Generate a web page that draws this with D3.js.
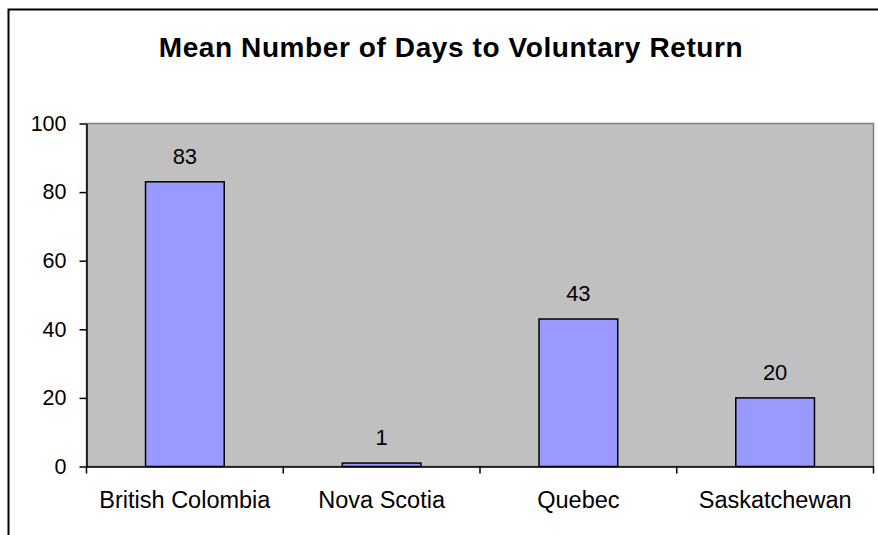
<!DOCTYPE html>
<html><head><meta charset="utf-8">
<script src="https://cdn.jsdelivr.net/npm/d3@7"></script>
<style>body{margin:0;background:#fff}svg{display:block}</style>
</head><body>
<script>
const categories = ["British Colombia", "Nova Scotia", "Quebec", "Saskatchewan"];
const values = [83, 1, 43, 20];
const yTicks = [0, 20, 40, 60, 80, 100];
const title = "Mean Number of Days to Voluntary Return";

const W = 878, H = 535;
const svg = d3.select("body").append("svg").attr("width", W).attr("height", H);
const font = "Arial, 'Liberation Sans', sans-serif";

// outer border
svg.append("rect").attr("x", 8.5).attr("y", 9.5).attr("width", 900).attr("height", 600)
  .attr("fill", "#fff").attr("stroke", "#000").attr("stroke-width", 2);

const L = 86.5, R = 873.5, T = 123.5, B = 466.5;
const x = d3.scaleBand().domain(categories).range([L, R]).paddingInner(0).paddingOuter(0);
const y = d3.scaleLinear().domain([0, 100]).range([B, T]);

svg.append("rect").attr("x", L).attr("y", T).attr("width", R - L).attr("height", B - T)
  .attr("fill", "#C0C0C0").attr("stroke", "#808080").attr("stroke-width", 1.5);

const bw = x.bandwidth() * 0.4;
svg.selectAll("rect.bar").data(values).enter().append("rect").attr("class", "bar")
  .attr("x", (d, i) => x(categories[i]) + (x.bandwidth() - bw) / 2)
  .attr("y", d => y(d)).attr("width", bw).attr("height", d => B - y(d))
  .attr("fill", "#9999FF").attr("stroke", "#000").attr("stroke-width", 1.5);

svg.selectAll("text.lbl").data(values).enter().append("text").attr("class", "lbl")
  .attr("x", (d, i) => x(categories[i]) + x.bandwidth() / 2)
  .attr("y", d => y(d) - 18).attr("text-anchor", "middle")
  .attr("font-family", font).attr("font-size", 22).text(d => d);

// y axis
const ya = svg.append("g").attr("transform", `translate(${L},0)`)
  .call(d3.axisLeft(y).tickValues(yTicks).tickSize(7).tickPadding(13).tickSizeOuter(0));
ya.select(".domain").attr("stroke", "#000").attr("stroke-width", 1.5);
ya.selectAll(".tick line").attr("stroke", "#000").attr("stroke-width", 1.5);
ya.selectAll("text").attr("font-family", font).attr("font-size", 21.5).attr("fill", "#000");

// x axis
const xa = svg.append("g").attr("transform", `translate(0,${B})`)
  .call(d3.axisBottom(x).tickSize(0).tickPadding(25));
xa.select(".domain").attr("stroke", "#000").attr("stroke-width", 1.5);
xa.selectAll("text").attr("font-family", font).attr("font-size", 23.5).attr("fill", "#000");
const bounds = categories.map(c => x(c)).concat([R]);
xa.selectAll("line.sep").data(bounds).enter().append("line").attr("class", "sep")
  .attr("x1", d => d).attr("x2", d => d).attr("y1", 0).attr("y2", 7)
  .attr("stroke", "#000").attr("stroke-width", 1.5);

svg.append("text").attr("x", 451).attr("y", 57).attr("text-anchor", "middle")
  .attr("font-family", font).attr("font-size", 28).attr("font-weight", "bold")
  .attr("letter-spacing", 0.6).text(title);
</script>
</body></html>
